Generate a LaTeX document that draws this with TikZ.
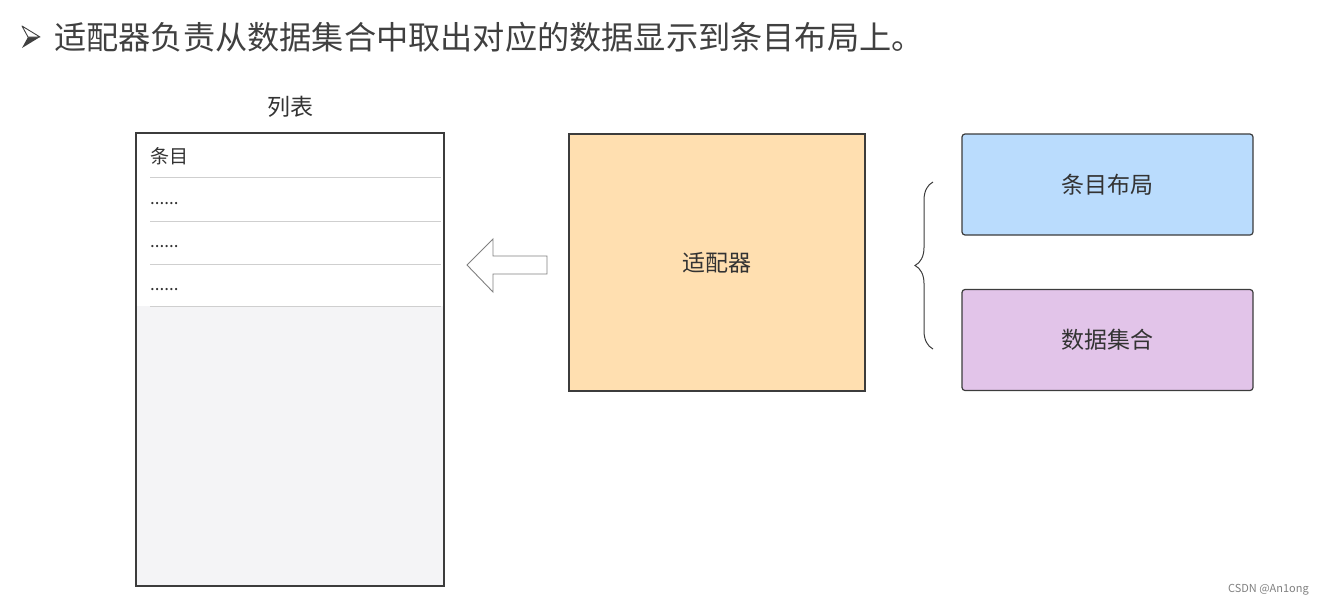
\documentclass[tikz,border=0pt]{standalone}
\usepackage{fontspec}
\setmainfont{Noto Sans CJK SC}
\usepackage{tikz}
\usetikzlibrary{decorations.pathreplacing}

\definecolor{titlegray}{HTML}{404040}
\definecolor{textgray}{HTML}{333333}
\definecolor{framegray}{HTML}{3C3C3C}
\definecolor{rowgray}{HTML}{CFCFCF}
\definecolor{listfill}{HTML}{F4F4F6}
\definecolor{adapterfill}{HTML}{FFDFB0}
\definecolor{layoutfill}{HTML}{BADCFD}
\definecolor{datafill}{HTML}{E2C4E9}

\begin{document}
\begin{tikzpicture}[x=1pt, y=-1pt,
    box/.style={draw=framegray, line width=1.2pt, text=textgray,
        font=\fontsize{23}{28}\selectfont},
    sidebox/.style={box, rounded corners=3pt, minimum width=291pt, minimum height=101pt},
    rowline/.style={rowgray, line width=0.8pt},
    rowtext/.style={anchor=west, inner sep=0pt, text=textgray}]
    \useasboundingbox (0,0) rectangle (1324,606);
    % headline
    \fill[titlegray] (22,48) -- (40,37) -- (28,37) -- cycle;
    \draw[titlegray, fill=white, line width=0.9pt, line join=round] (22,26) -- (40,37) -- (28,37) -- cycle;
    \node[anchor=west, inner sep=0pt, text=titlegray, font=\fontsize{32.2}{38}\selectfont] (headline) at (54,37)
        {适配器负责从数据集合中取出对应的数据显示到条目布局上。};
    % list
    \node[draw=framegray, line width=1.8pt, fill=listfill, minimum width=308pt, minimum height=453pt] (list) at (290,359.5) {};
    \fill[white] (137,134) rectangle (443,306);
    \node[text=textgray, font=\fontsize{23}{28}\selectfont] (listtitle) at (290,107) {列表};
    \node[rowtext, font=\fontsize{19}{24}\selectfont] (item) at (150,156) {条目};
    \foreach \y in {177,221,264,306}
        \draw[rowline] (150,\y) -- (441,\y);
    \foreach \y [count=\i] in {204,247,290}
        \node[rowtext, font=\fontsize{17}{20}\selectfont] (dots\i) at (150,\y) {......};
    % adapter and sources
    \node[box, fill=adapterfill, minimum width=296pt, minimum height=257pt] (adapter) at (717,262.5) {适配器};
    \node[sidebox, fill=layoutfill] (layout) at (1107.5,184.5) {条目布局};
    \node[sidebox, fill=datafill] (data) at (1107.5,340) {数据集合};
    % hollow arrow
    \draw[gray, line width=0.9pt, fill=white, line join=miter]
        (547,256) -- (493,256) -- (493,239) -- (467,265) -- (493,292) -- (493,274) -- (547,274) -- cycle;
    % brace
    \coordinate (bracetop) at (933,182);
    \coordinate (bracebot) at (933,349);
    \draw[framegray, line width=1pt, decorate, decoration={brace, amplitude=18pt}] (bracebot) -- (bracetop);
    \node[anchor=east, inner sep=0pt, text=gray, font=\fontsize{11}{13}\selectfont] (mark) at (1309,590) {CSDN @An1ong};
\end{tikzpicture}
\end{document}
